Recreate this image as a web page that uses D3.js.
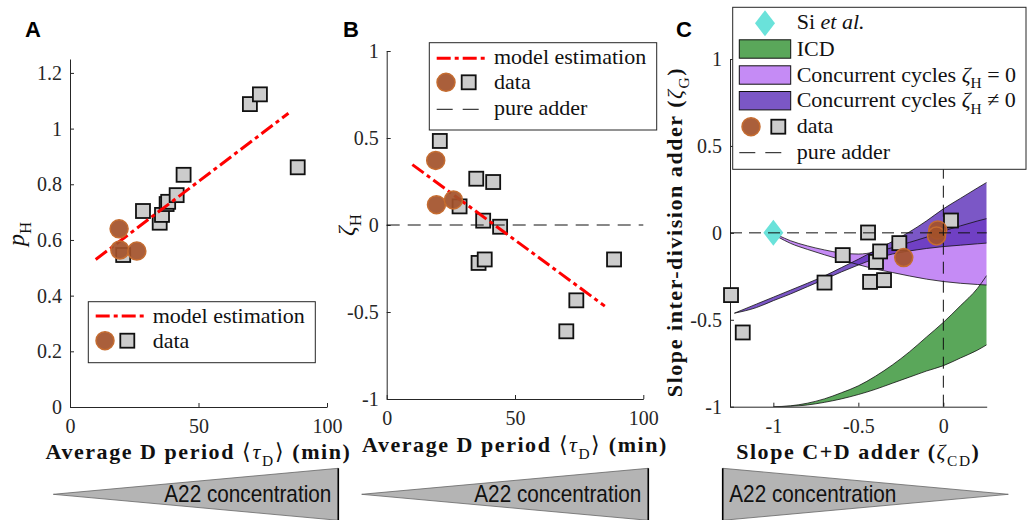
<!DOCTYPE html>
<html>
<head>
<meta charset="utf-8">
<script src="https://cdn.jsdelivr.net/npm/d3@7"></script>
<style>
  html, body { margin: 0; padding: 0; background: #fff; }
  svg { display: block; }
  text { white-space: pre; }
</style>
</head>
<body>
<svg id="fig" width="1033" height="520"></svg>
<script>
// ---------- data ----------
// Panels A and B: average D period (min) per condition
const dPeriodSq   = [20.7, 28.4, 34.9, 35.8, 37.6, 38.2, 41.5, 44.2, 70.0, 73.9, 88.6];
const pHSq        = [0.546, 0.704, 0.662, 0.690, 0.729, 0.737, 0.761, 0.834, 1.088, 1.123, 0.861];
const zetaHSq     = [0.483, 0.107, 0.266, -0.218, 0.025, -0.198, 0.247, -0.010, -0.611, -0.433, -0.198];
const dPeriodCirc = [19.1, 19.4, 26.0];
const pHCirc      = [0.640, 0.564, 0.560];
const zetaHCirc   = [0.371, 0.117, 0.144];
const modelX      = [10, 85];
const modelPH     = [0.530, 1.055];
const modelZetaH  = [0.347, -0.466];

// Panel C: slope C+D adder vs slope inter-division adder
const zetaCDSq   = [-1.249, -1.180, -0.699, -0.592, -0.443, -0.396, -0.372, -0.431, -0.349, -0.259, 0.045];
const zetaGSq    = [-0.358, -0.573, -0.286, -0.128, 0.002, -0.167, -0.107, -0.282, -0.272, -0.059, 0.071];
const zetaCDCirc = [-0.233, -0.033, -0.040];
const zetaGCirc  = [-0.142, 0.017, -0.018];
const siEtAlCD   = [-1.0];
const siEtAlG    = [0.0];

// Model bands (boundary curves sampled along zeta_CD)
const icdX     = [-1.0, -0.9, -0.8, -0.7, -0.6, -0.5, -0.4, -0.3, -0.2, -0.1, 0.0, 0.1, 0.2, 0.255];
const icdUpper = [-1.0, -0.995, -0.98, -0.955, -0.92, -0.88, -0.825, -0.76, -0.685, -0.6, -0.515, -0.42, -0.32, -0.245];
const icdLower = [-1.0, -0.998, -0.99, -0.975, -0.955, -0.93, -0.9, -0.865, -0.83, -0.795, -0.764, -0.72, -0.675, -0.644];

const ccZeroX     = [-0.97, -0.9, -0.8, -0.7, -0.6, -0.5, -0.4, -0.3, -0.2, -0.1, 0.0, 0.1, 0.2, 0.255];
const ccZeroUpper = [-0.015, -0.045, -0.075, -0.098, -0.116, -0.122, -0.11, -0.085, -0.055, -0.025, 0.01, 0.04, 0.068, 0.082];
const ccZeroLower = [-0.025, -0.06, -0.095, -0.126, -0.155, -0.183, -0.208, -0.228, -0.248, -0.266, -0.28, -0.29, -0.297, -0.30];

const ccNonzeroX     = [-1.229, -1.1, -1.0, -0.9, -0.8, -0.7, -0.6, -0.5, -0.4, -0.3, -0.2, -0.1, 0.0, 0.1, 0.2, 0.255];
const ccNonzeroUpper = [-0.462, -0.41, -0.37, -0.33, -0.29, -0.248, -0.2, -0.152, -0.1, -0.05, 0.005, 0.068, 0.138, 0.198, 0.258, 0.29];
const ccNonzeroLower = [-0.462, -0.43, -0.39, -0.352, -0.31, -0.268, -0.225, -0.185, -0.148, -0.122, -0.104, -0.09, -0.079, -0.071, -0.063, -0.059];

// Tick values
const ticksDPeriod = [0, 50, 100];
const ticksPH      = [0, 0.2, 0.4, 0.6, 0.8, 1, 1.2];
const ticksZetaH   = [-1, -0.5, 0, 0.5, 1];
const ticksZetaCD  = [-1, -0.5, 0];
const ticksZetaG   = [-1, -0.5, 0, 0.5, 1];

// ---------- style ----------
const SERIF = "'Liberation Serif','Times New Roman',serif";
const SANS = "'Liberation Sans',Arial,sans-serif";
const AXIS = "#262626";
const RED = "#ff0000";
const CIRC_FILL = "#a3512a", CIRC_STROKE = "#c56c30";
const SQ_FILL = "#cccccc";
const GREEN = "#5aa75a", LIGHT_PURPLE = "#c58bf5", DARK_PURPLE = "#5a2db8";
const TURQ = "#6ae2da";
const DASHDOT = "14,4,4,4";

const svg = d3.select("#fig");

// ---------- scales ----------
const xA = d3.scaleLinear().domain([0, 100]).range([70, 327]);
const yA = d3.scaleLinear().domain([0, 1.25]).range([407, 59]);
const xB = d3.scaleLinear().domain([0, 100]).range([386.7, 643.3]);
const yB = d3.scaleLinear().domain([-1, 1]).range([399, 51]);
const xC = d3.scaleLinear().domain([-1.255, 0.255]).range([730, 986.7]);
const yC = d3.scaleLinear().domain([-1, 1]).range([406.7, 59]);

const fmt = d => String(+d.toFixed(2));

// ---------- helpers ----------
function rich(parent, parts, attrs) {
  const t = parent.append("text");
  Object.entries(attrs).forEach(([k, v]) => t.attr(k, v));
  const base = attrs["font-size"];
  let shift = 0;
  parts.forEach(([str, st = ""]) => {
    const ts = t.append("tspan").text(str);
    if (st.includes("i")) ts.attr("font-style", "italic");
    if (st.includes("n")) ts.attr("font-weight", "normal");
    const target = st.includes("s") ? base * 0.3 : 0;
    if (target !== shift) { ts.attr("dy", target - shift); shift = target; }
    if (st.includes("s")) ts.attr("font-size", base * 0.7);
  });
  return t;
}

function styleAxis(g) {
  g.selectAll("path.domain").attr("stroke", AXIS).attr("stroke-width", 1);
  g.selectAll(".tick line").attr("stroke", AXIS).attr("stroke-width", 1);
  g.selectAll(".tick text").attr("fill", AXIS);
  g.attr("font-family", SERIF).attr("font-size", 20);
}

function drawAxes(x, y, xt, yt) {
  const [x0] = x.range();
  const [y0] = y.range();
  svg.append("g").attr("transform", `translate(0,${y0})`)
    .call(d3.axisBottom(x).tickValues(xt).tickFormat(fmt).tickSizeInner(-4).tickSizeOuter(0).tickPadding(12))
    .call(styleAxis);
  svg.append("g").attr("transform", `translate(${x0},0)`)
    .call(d3.axisLeft(y).tickValues(yt).tickFormat(fmt).tickSizeInner(-4).tickSizeOuter(0).tickPadding(8))
    .call(styleAxis);
}

function squares(g, xs, ys, x, y) {
  g.selectAll(null).data(xs.map((v, i) => [v, ys[i]])).join("rect")
    .attr("x", d => x(d[0]) - 7).attr("y", d => y(d[1]) - 7)
    .attr("width", 14).attr("height", 14)
    .attr("fill", SQ_FILL).attr("stroke", "#111").attr("stroke-width", 1.8);
}

function circles(g, xs, ys, x, y) {
  g.selectAll(null).data(xs.map((v, i) => [v, ys[i]])).join("circle")
    .attr("cx", d => x(d[0])).attr("cy", d => y(d[1])).attr("r", 9)
    .attr("fill", CIRC_FILL).attr("fill-opacity", 0.92)
    .attr("stroke", CIRC_STROKE).attr("stroke-width", 1.5);
}

function modelLine(g, xs, ys, x, y) {
  g.append("path")
    .attr("d", d3.line().x(d => x(d[0])).y(d => y(d[1]))(xs.map((v, i) => [v, ys[i]])))
    .attr("fill", "none").attr("stroke", RED).attr("stroke-width", 3)
    .attr("stroke-dasharray", DASHDOT);
}

function legendBox(x, y, w, h) {
  svg.append("rect").attr("x", x).attr("y", y).attr("width", w).attr("height", h)
    .attr("fill", "#fff").attr("stroke", AXIS).attr("stroke-width", 1);
}

const legText = (x, y, parts) => rich(svg, parts, {
  x, y, "font-family": SERIF, "font-size": 22, fill: "#111"
});

function legSquare(cx, cy) {
  svg.append("rect").attr("x", cx - 7).attr("y", cy - 7).attr("width", 14).attr("height", 14)
    .attr("fill", SQ_FILL).attr("stroke", "#111").attr("stroke-width", 1.8);
}
function legCircle(cx, cy) {
  svg.append("circle").attr("cx", cx).attr("cy", cy).attr("r", 9)
    .attr("fill", CIRC_FILL).attr("fill-opacity", 0.92)
    .attr("stroke", CIRC_STROKE).attr("stroke-width", 1.5);
}

const boldLabel = (parts, attrs) => rich(svg, parts, Object.assign({
  "font-family": SERIF, "font-size": 22, "font-weight": "bold", fill: "#111",
  "text-anchor": "middle", "letter-spacing": 1.55
}, attrs));

const periodLabel = [["Average D period "], ["\u27E8", "n"], ["\u03C4", "in"], ["D", "sn"], ["\u27E9", "n"], [" (min)"]];

// ---------- Panel A ----------
drawAxes(xA, yA, ticksDPeriod, ticksPH);
const gA = svg.append("g");
squares(gA, dPeriodSq, pHSq, xA, yA);
modelLine(gA, modelX, modelPH, xA, yA);
circles(gA, dPeriodCirc, pHCirc, xA, yA);

boldLabel(periodLabel, { x: 198.5, y: 459 });
rich(svg, [["p", "i"], ["H", "s"]], {
  "font-family": SERIF, "font-size": 24, fill: "#111", "text-anchor": "middle",
  transform: "translate(24,234) rotate(-90)"
});

legendBox(88.3, 301.7, 227, 61);
svg.append("line").attr("x1", 95.7).attr("x2", 146.7).attr("y1", 316).attr("y2", 316)
  .attr("stroke", RED).attr("stroke-width", 3).attr("stroke-dasharray", DASHDOT);
legText(152.7, 323, [["model estimation"]]);
legCircle(105, 340.7);
legSquare(127.3, 340.7);
legText(152.7, 347.7, [["data"]]);

// ---------- Panel B ----------
drawAxes(xB, yB, ticksDPeriod, ticksZetaH);
const gB = svg.append("g");
squares(gB, dPeriodSq, zetaHSq, xB, yB);
modelLine(gB, modelX, modelZetaH, xB, yB);
circles(gB, dPeriodCirc, zetaHCirc, xB, yB);
gB.append("line").attr("x1", xB(0)).attr("x2", xB(100)).attr("y1", yB(0)).attr("y2", yB(0))
  .attr("stroke", "#111").attr("stroke-width", 1).attr("stroke-dasharray", "13,8");

boldLabel(periodLabel, { x: 515, y: 452 });
rich(svg, [["\u03B6", "i"], ["H", "s"]], {
  "font-family": SERIF, "font-size": 24, fill: "#111", "text-anchor": "middle",
  transform: "translate(354,225) rotate(-90)"
});

legendBox(429.3, 42.7, 227.4, 87.3);
svg.append("line").attr("x1", 436.7).attr("x2", 487.7).attr("y1", 58.3).attr("y2", 58.3)
  .attr("stroke", RED).attr("stroke-width", 3).attr("stroke-dasharray", DASHDOT);
legText(494, 64, [["model estimation"]]);
legCircle(446, 82.3);
legSquare(468.7, 82.3);
legText(494, 89.3, [["data"]]);
svg.append("line").attr("x1", 436.7).attr("x2", 481.7).attr("y1", 109.3).attr("y2", 109.3)
  .attr("stroke", "#111").attr("stroke-width", 1).attr("stroke-dasharray", "16,10");
legText(494, 114.5, [["pure adder"]]);

// ---------- Panel C ----------
const clip = svg.append("clipPath").attr("id", "clipC");
clip.append("rect").attr("x", xC.range()[0]).attr("y", yC.range()[1])
  .attr("width", xC.range()[1] - xC.range()[0]).attr("height", yC.range()[0] - yC.range()[1]);

const gC = svg.append("g").attr("clip-path", "url(#clipC)");

function band(xs, up, lo, fill, opacity) {
  const pts = xs.map((v, i) => [v, up[i], lo[i]]);
  gC.append("path")
    .attr("d", d3.area().x(d => xC(d[0])).y0(d => yC(d[2])).y1(d => yC(d[1])).curve(d3.curveMonotoneX)(pts))
    .attr("fill", fill).attr("fill-opacity", opacity).attr("stroke", "none");
}
function edge(xs, ys) {
  gC.append("path")
    .attr("d", d3.line().x(d => xC(d[0])).y(d => yC(d[1])).curve(d3.curveMonotoneX)(xs.map((v, i) => [v, ys[i]])))
    .attr("fill", "none").attr("stroke", "#111").attr("stroke-width", 0.8);
}

band(icdX, icdUpper, icdLower, GREEN, 1);
band(ccZeroX, ccZeroUpper, ccZeroLower, LIGHT_PURPLE, 1);
band(ccNonzeroX, ccNonzeroUpper, ccNonzeroLower, DARK_PURPLE, 0.8);
edge(icdX, icdUpper); edge(icdX, icdLower);
edge(ccZeroX, ccZeroUpper); edge(ccZeroX, ccZeroLower);
edge(ccNonzeroX, ccNonzeroUpper); edge(ccNonzeroX, ccNonzeroLower);

drawAxes(xC, yC, ticksZetaCD, ticksZetaG);

const gCm = svg.append("g");
gCm.selectAll(null).data(siEtAlCD.map((v, i) => [v, siEtAlG[i]])).join("path")
  .attr("d", d => {
    const cx = xC(d[0]), cy = yC(d[1]);
    return `M${cx},${cy - 13}L${cx + 10},${cy}L${cx},${cy + 13}L${cx - 10},${cy}Z`;
  })
  .attr("fill", TURQ);
squares(gCm, zetaCDSq, zetaGSq, xC, yC);
circles(gCm, zetaCDCirc, zetaGCirc, xC, yC);

// pure adder reference lines
gCm.append("line").attr("x1", xC.range()[0]).attr("x2", xC.range()[1]).attr("y1", yC(0)).attr("y2", yC(0))
  .attr("stroke", "#111").attr("stroke-width", 1).attr("stroke-dasharray", "12,7");
gCm.append("line").attr("x1", xC(0)).attr("x2", xC(0)).attr("y1", yC(-1)).attr("y2", yC(1))
  .attr("stroke", "#111").attr("stroke-width", 1).attr("stroke-dasharray", "12,7");

boldLabel([["Slope C+D adder ("], ["\u03B6", "in"], ["CD", "sn"], [")"]], { x: 858.3, y: 459 });
boldLabel([["Slope inter-division adder ("], ["\u03B6", "in"], ["G", "sn"], [")"]],
  { x: 0, y: 0, transform: "translate(682,232) rotate(-90)" });

legendBox(732.7, 7.3, 293.3, 162);
svg.append("path").attr("d", "M765,10.3L775,23.3L765,36.3L755,23.3Z").attr("fill", TURQ);
legText(796.7, 29, [["Si "], ["et al.", "i"]]);
const patch = (cy, fill, op) => svg.append("rect").attr("x", 739.3).attr("y", cy - 9.2)
  .attr("width", 51.4).attr("height", 18.4).attr("fill", fill).attr("fill-opacity", op)
  .attr("stroke", "#111").attr("stroke-width", 1);
patch(49, GREEN, 1);
legText(796.7, 55.5, [["ICD"]]);
patch(75, LIGHT_PURPLE, 1);
legText(796.7, 81.5, [["Concurrent cycles "], ["\u03B6", "i"], ["H", "s"], [" = 0"]]);
patch(100.7, DARK_PURPLE, 0.8);
legText(796.7, 107, [["Concurrent cycles "], ["\u03B6", "i"], ["H", "s"], [" \u2260 0"]]);
legCircle(751, 126.7);
legSquare(778.3, 126.7);
legText(796.7, 133, [["data"]]);
svg.append("line").attr("x1", 739.3).attr("x2", 784).attr("y1", 152.7).attr("y2", 152.7)
  .attr("stroke", "#111").attr("stroke-width", 1).attr("stroke-dasharray", "16,10");
legText(796.7, 159, [["pure adder"]]);

// ---------- panel letters ----------
[["A", 25, 36.7], ["B", 343, 36.7], ["C", 676, 36.7]].forEach(([s, x, y]) =>
  svg.append("text").attr("x", x).attr("y", y).text(s)
    .attr("font-family", SANS).attr("font-weight", "bold").attr("font-size", 22).attr("fill", "#000"));

// ---------- A22 concentration arrows ----------
function arrow(tipX, flatX, pointLeft) {
  const top = 468.3, mid = 494.3, bot = 520.3;
  const g = svg.append("g");
  g.append("path").attr("d", `M${tipX},${mid}L${flatX},${top}L${flatX},${bot}Z`)
    .attr("fill", "#b4b4b4").attr("stroke", "#666").attr("stroke-width", 0.8);
  g.append("line").attr("x1", flatX).attr("x2", flatX).attr("y1", top).attr("y2", bot)
    .attr("stroke", "#000").attr("stroke-width", 1.6);
  const len = 167;
  g.append("text").text("A22 concentration")
    .attr("x", pointLeft ? flatX - 7 - len : flatX + 6.6).attr("y", 501.7)
    .attr("textLength", len).attr("lengthAdjust", "spacingAndGlyphs")
    .attr("font-family", SANS).attr("font-size", 24).attr("fill", "#111");
}
arrow(53.3, 338.3, true);
arrow(361.7, 648.3, true);
arrow(1008.3, 722.7, false);
</script>
</body>
</html>
